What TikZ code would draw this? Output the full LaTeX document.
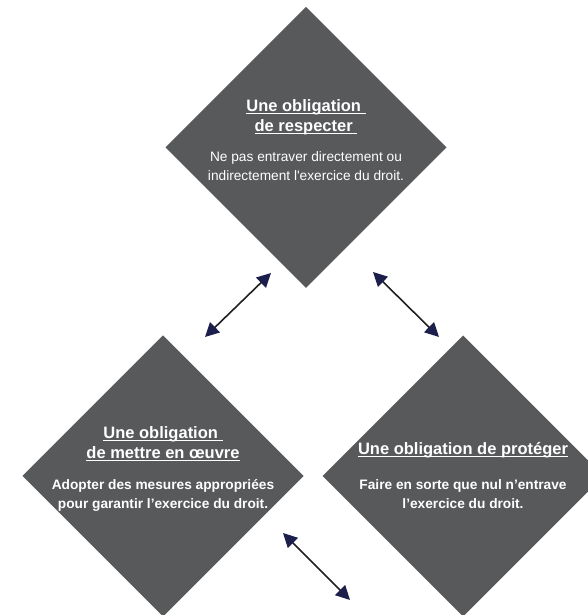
\documentclass[tikz,border=0pt]{standalone}
\usepackage{fontspec}
\setmainfont{Liberation Sans}
\usetikzlibrary{shapes.geometric,arrows.meta}
\definecolor{gris}{HTML}{58595B}
\definecolor{marine}{HTML}{1C1F4C}
\definecolor{trait}{HTML}{231F20}
\newcommand{\souligne}[1]{\setbox0\hbox{#1}\rlap{\rule[-2.6pt]{\wd0}{1.1pt}}\box0}

\begin{document}
\begin{tikzpicture}[x=1pt,y=1pt,
	losange/.style={diamond,aspect=1,fill=gris,minimum width=281pt,minimum height=281pt,inner sep=0pt,outer sep=0pt},
	titre/.style={text=white,font=\bfseries\fontsize{16.5}{20}\selectfont,align=center,inner sep=0pt},
	corps/.style={text=white,font=\fontsize{13.7}{19}\selectfont,align=center,inner sep=0pt},
	lien/.style={draw=trait,line width=1.6pt,{Triangle[length=14pt,width=14pt,color=marine]}-{Triangle[length=14pt,width=14pt,color=marine]}}]
	
	% Cadre de l'image
	\useasboundingbox (0,0) rectangle (588,615);
	\clip (0,0) rectangle (588,615);
	
	% Obligation de respecter (en haut)
	\node[losange] (respecter) at (306,467.5) {};
	\node[titre] (respecter-titre) at (306,497.5) {\souligne{Une obligation\ }\\\souligne{de respecter\ }};
	\node[corps] (respecter-texte) at (306,449) {Ne pas entraver directement ou\\indirectement l\textquotesingle exercice du droit.};
	
	% Obligation de mettre en oeuvre (en bas a gauche)
	\node[losange] (oeuvre) at (163,139) {};
	\node[titre] (oeuvre-titre) at (163,171) {\souligne{Une obligation\ }\\\souligne{de mettre en œuvre}};
	\node[corps,font=\bfseries\fontsize{13.7}{19}\selectfont] (oeuvre-texte) at (163,120) {Adopter des mesures appropriées\\pour garantir l’exercice du droit.};
	
	% Obligation de proteger (en bas a droite)
	\node[losange] (proteger) at (463,139) {};
	\node[titre] (proteger-titre) at (463,165) {\souligne{Une obligation de protéger}};
	\node[corps,font=\bfseries\fontsize{13.7}{19}\selectfont] (proteger-texte) at (463,121) {Faire en sorte que nul n’entrave\\l’exercice du droit.};
	
	% Extremites des fleches
	\coordinate (fg-bas) at (205,278);
	\coordinate (fg-haut) at (271,342);
	\coordinate (fd-haut) at (373,343);
	\coordinate (fd-bas) at (439,278);
	\coordinate (fb-haut) at (283,82);
	\coordinate (fb-bas) at (350,15);
	
	% Fleches doubles
	\draw[lien] (fg-bas) -- (fg-haut);
	\draw[lien] (fd-haut) -- (fd-bas);
	\draw[lien] (fb-haut) -- (fb-bas);
\end{tikzpicture}
\end{document}
